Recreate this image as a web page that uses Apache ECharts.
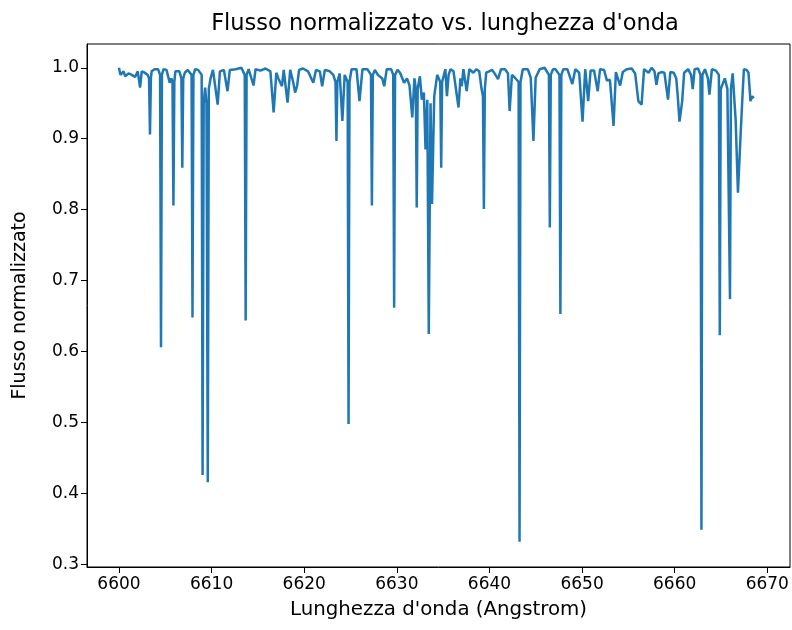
<!DOCTYPE html>
<html>
<head>
<meta charset="utf-8">
<script src="https://cdn.jsdelivr.net/npm/echarts@6/dist/echarts.min.js"></script>
<style>
html,body{margin:0;padding:0;background:#fff;}
#chart{width:792px;height:630px;}
</style>
</head>
<body>
<div id="chart"></div>
<script>
const wavelength = [
6600.00,6600.16,6600.32,6600.50,6600.67,6601.04,6601.39,6601.74,6602.03,6602.28,6602.46,6602.78,6603.10,6603.25,6603.35,6603.45,6603.53,6603.85,6604.22,6604.44,6604.54,6604.64,6604.81,6605.13,6605.48,6605.66,6605.78,6605.88,6605.98,6606.09,6606.52,6606.74,6606.84,6606.94,6607.11,6607.43,6607.84,6607.94,6608.04,6608.23,6608.55,6608.93,6609.03,6609.15,6609.30,6609.45,6609.59,6609.70,6609.89,6610.15,6610.66,6610.90,6611.33,6611.72,6611.97,6612.61,6613.22,6613.58,6613.68,6613.78,6614.00,6614.21,6614.53,6614.75,6615.28,6615.82,6616.35,6616.70,6616.99,6617.21,6617.60,6617.79,6618.20,6618.49,6618.81,6619.02,6619.24,6619.45,6619.88,6620.41,6620.98,6621.27,6621.69,6621.94,6622.23,6622.76,6623.14,6623.38,6623.48,6623.58,6623.83,6624.12,6624.37,6624.69,6624.79,6624.89,6625.11,6625.65,6625.97,6626.29,6626.82,6627.21,6627.31,6627.41,6627.63,6627.95,6628.43,6628.64,6628.91,6629.39,6629.61,6629.71,6629.81,6630.08,6630.35,6630.78,6631.10,6631.37,6631.67,6631.90,6632.05,6632.15,6632.25,6632.49,6632.70,6632.92,6633.10,6633.29,6633.45,6633.64,6633.80,6634.04,6634.36,6634.69,6634.79,6634.89,6635.24,6635.41,6635.59,6635.80,6636.12,6636.66,6636.87,6637.01,6637.19,6637.54,6637.83,6638.26,6638.58,6638.90,6639.15,6639.30,6639.40,6639.50,6639.65,6639.97,6640.29,6640.61,6640.93,6641.25,6641.68,6642.00,6642.18,6642.43,6642.75,6643.15,6643.25,6643.35,6643.60,6644.14,6644.46,6644.75,6644.99,6645.42,6645.95,6646.42,6646.52,6646.62,6646.86,6647.13,6647.34,6647.56,6647.66,6647.76,6647.98,6648.41,6648.95,6649.27,6649.69,6650.05,6650.34,6650.66,6650.92,6651.30,6651.69,6651.94,6652.37,6652.69,6653.01,6653.40,6653.65,6654.11,6654.40,6654.82,6655.36,6655.73,6656.08,6656.27,6656.43,6656.69,6657.18,6657.50,6657.82,6658.03,6658.24,6658.57,6658.89,6659.28,6659.53,6659.90,6660.17,6660.33,6660.52,6660.81,6661.02,6661.45,6661.77,6661.95,6662.15,6662.52,6662.79,6662.89,6662.99,6663.27,6663.59,6663.75,6664.02,6664.44,6664.77,6664.87,6664.97,6665.16,6665.41,6665.69,6665.87,6665.97,6666.07,6666.26,6666.58,6666.83,6667.11,6667.30,6667.47,6667.76,6667.97,6668.18,6668.37,6668.54
];
const flux = [
1.000,0.990,0.988,0.995,0.988,0.992,0.990,0.987,0.995,0.972,0.995,0.993,0.990,0.985,0.906,0.985,0.995,0.998,0.998,0.990,0.606,0.990,0.998,0.997,0.979,0.985,0.980,0.806,0.980,0.995,0.995,0.985,0.859,0.985,0.993,0.997,0.990,0.648,0.990,0.998,0.997,0.990,0.426,0.950,0.972,0.950,0.416,0.970,0.985,0.997,0.948,0.995,0.997,0.967,0.997,0.998,1.000,0.990,0.644,0.990,0.998,0.997,0.975,0.998,0.996,0.999,0.995,0.937,0.993,0.985,0.974,0.997,0.951,0.997,0.980,0.965,0.975,0.997,0.999,0.995,0.979,0.997,0.995,0.974,0.997,0.995,0.990,0.980,0.897,0.980,0.992,0.925,0.990,0.980,0.498,0.980,0.998,0.998,0.953,0.998,0.998,0.990,0.806,0.990,0.997,0.990,0.985,0.974,0.998,0.998,0.990,0.662,0.990,0.997,0.993,0.979,0.985,0.975,0.930,0.985,0.970,0.803,0.970,0.988,0.955,0.965,0.885,0.955,0.625,0.950,0.808,0.960,0.990,0.980,0.859,0.980,0.998,0.960,0.990,0.998,0.995,0.944,0.985,0.974,0.998,0.967,0.998,0.993,0.998,0.995,0.970,0.960,0.801,0.970,0.993,0.995,0.997,0.991,0.984,0.998,0.998,0.992,0.939,0.990,0.986,0.980,0.332,0.980,0.998,0.998,0.986,0.897,0.986,0.998,1.000,0.990,0.775,0.990,0.998,0.998,0.997,0.990,0.653,0.990,0.998,0.998,0.977,0.998,0.993,0.924,0.998,0.953,0.996,0.996,0.967,0.998,0.997,0.982,0.983,0.918,0.994,0.975,0.994,0.998,0.999,0.992,0.953,0.951,0.948,0.998,0.993,1.000,0.995,0.976,0.992,0.994,0.993,0.955,0.994,0.993,0.985,0.960,0.924,0.953,0.993,0.998,0.990,0.970,0.998,0.999,0.990,0.349,0.990,0.998,0.985,0.962,0.998,0.996,0.990,0.623,0.970,0.970,0.985,0.970,0.970,0.674,0.970,0.992,0.927,0.824,0.904,0.955,0.998,0.997,0.993,0.953,0.960,0.957
];
const xTicks = [6600,6610,6620,6630,6640,6650,6660,6670];
const yTicks = [0.3,0.4,0.5,0.6,0.7,0.8,0.9,1.0];
const titleText = "Flusso normalizzato vs. lunghezza d'onda";
const xLabel = "Lunghezza d'onda (Angstrom)";
const yLabel = "Flusso normalizzato";

const points = wavelength.map((w, i) => [w, flux[i]]);
const FONT = 'DejaVu Sans';
const chart = echarts.init(document.getElementById('chart'), null, {renderer: 'canvas'});
chart.setOption({
  animation: false,
  backgroundColor: '#fff',
  title: {
    text: titleText, left: 440, top: 8, textAlign: 'center',
    textStyle: {fontFamily: FONT, fontSize: 22.5, fontWeight: 'normal', color: '#000'}
  },
  grid: {left: 87, right: 2, top: 44, bottom: 63, show: true, borderColor: '#000', borderWidth: 1, backgroundColor: 'transparent'},
  xAxis: {
    type: 'value', min: 6596.55, max: 6672.45,
    name: xLabel, nameLocation: 'middle', nameGap: 33,
    nameTextStyle: {fontFamily: FONT, fontSize: 19.8, color: '#000'},
    axisLine: {show: true, onZero: false, lineStyle: {color: '#000', width: 1}},
    axisTick: {show: true, inside: false, length: 6, customValues: xTicks, lineStyle: {color: '#000'}},
    axisLabel: {customValues: xTicks, fontFamily: FONT, fontSize: 17, color: '#000', margin: 9, formatter: v => String(Math.round(v))},
    splitLine: {show: false}
  },
  yAxis: {
    type: 'value', min: 0.2965, max: 1.0335,
    name: yLabel, nameLocation: 'middle', nameGap: 57, nameRotate: 90,
    nameTextStyle: {fontFamily: FONT, fontSize: 19, color: '#000'},
    axisLine: {show: true, onZero: false, lineStyle: {color: '#000', width: 1}},
    axisTick: {show: true, inside: false, length: 6, customValues: yTicks, lineStyle: {color: '#000'}},
    axisLabel: {customValues: yTicks, fontFamily: FONT, fontSize: 17, color: '#000', margin: 8, formatter: v => v.toFixed(1)},
    splitLine: {show: false}
  },
  series: [{
    type: 'line', data: points, showSymbol: false, symbol: 'none',
    lineStyle: {color: '#1f77b4', width: 2.5}, itemStyle: {color: '#1f77b4'},
    smooth: false, clip: true
  }]
});
</script>
</body>
</html>
